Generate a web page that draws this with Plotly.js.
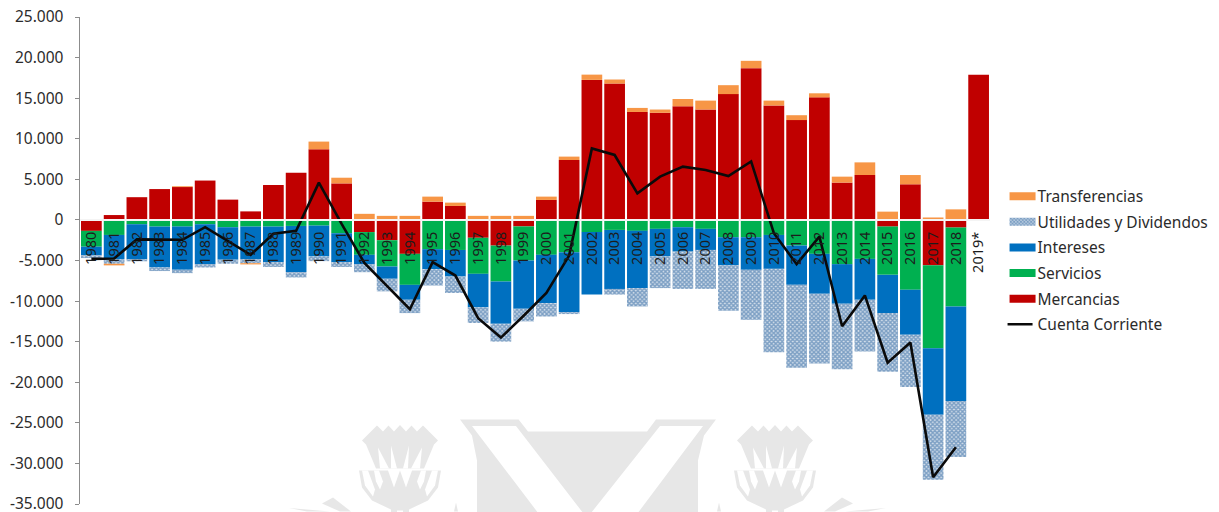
<!DOCTYPE html>
<html>
<head>
<meta charset="utf-8">
<script src="https://cdn.plot.ly/plotly-3.0.1.min.js"></script>
<style>html,body{margin:0;padding:0;background:#fff}#chart{width:1219px;height:512px}</style>
</head>
<body>
<div id="chart"></div>
<script>
// Balance components by year (thousand-dot formatted on the axis)
const years = ['1980','1981','1982','1983','1984','1985','1986','1987','1988','1989','1990','1991','1992','1993','1994','1995','1996','1997','1998','1999','2000','2001','2002','2003','2004','2005','2006','2007','2008','2009','2010','2011','2012','2013','2014','2015','2016','2017','2018','2019*'];

// Mercancías
const mercancias = [-1350,600,2800,3800,4050,4850,2500,1050,4300,5800,8700,4500,-1500,-2500,-4180,2250,1720,-2200,-3160,-800,2460,7380,17250,16800,13300,13200,14000,13600,15500,18700,14100,12300,15100,4600,5530,-820,4390,-5600,-940,17900];
// Servicios (segment size)
const servicios = [-1950,-1850,-530,-820,-820,-530,-900,-820,-820,-740,-700,-1640,-2800,-3240,-3820,-3600,-3700,-4440,-4430,-4200,-4300,-3980,-1500,-1230,-1350,-1100,-900,-1100,-2130,-2130,-1850,-3150,-4180,-5450,-4800,-5950,-8600,-10200,-9720,0];
// Intereses (segment size)
const intereses = [-1050,-3000,-4320,-5040,-5330,-4920,-4000,-4030,-4380,-5690,-3800,-3560,-1150,-1510,-1840,-2470,-3270,-4140,-5210,-5950,-5950,-7380,-7700,-7270,-7050,-3400,-3000,-2600,-3470,-4020,-4180,-4850,-4920,-4880,-5040,-4710,-5550,-8200,-11640,0];
// Utilidades y Dividendos (segment size)
const utilidades = [-350,-550,-250,-440,-410,-410,-500,-480,-600,-660,-580,-600,-990,-1550,-1640,-2010,-2030,-1920,-2200,-1550,-1650,-240,0,-700,-2260,-3900,-4600,-4800,-5600,-6150,-10270,-10200,-8600,-8070,-6360,-7220,-6450,-8000,-6900,0];
// Transferencias (negative only in 1981 and 1987)
const transferencias = [0,-200,0,0,100,0,0,-150,0,0,950,700,750,500,500,620,410,500,500,500,410,420,650,500,500,400,900,1100,1100,900,600,600,500,730,1560,1020,1140,300,1300,0];
// Cuenta Corriente
const cuentaCorriente = [-4800,-4750,-2400,-2450,-2450,-900,-2650,-4300,-1700,-1350,4600,-500,-5300,-8200,-11000,-5200,-6850,-12100,-14500,-11800,-9000,-4400,8800,8000,3280,5330,6560,6150,5400,7200,-1640,-5450,-2050,-13100,-9300,-17600,-15100,-31700,-28000,null];

const yTickValues = [25000,20000,15000,10000,5000,0,-5000,-10000,-15000,-20000,-25000,-30000,-35000];
const yTickLabels = ['25.000','20.000','15.000','10.000','5.000','0','-5.000','-10.000','-15.000','-20.000','-25.000','-30.000','-35.000'];

const fontFamily = '"Noto Sans", "Open Sans", sans-serif';
const textColor = '#2b2b2b';

function barTrace(name, values, color, rank) {
  return {type: 'bar', name: name, x: years, y: values, legendrank: rank, legendgroup: name,
          marker: {color: color, line: {width: 0}}, hoverinfo: 'name+x+y'};
}

const utilidadesTrace = barTrace('Utilidades y Dividendos', utilidades, '#ffffff', 2);
utilidadesTrace.marker.pattern = {shape: 'x', fgcolor: '#7c9fc4', bgcolor: '#d6e1ec', size: 3, solidity: 0.7, fillmode: 'replace'};

const traces = [
  barTrace('Mercancias', mercancias, '#c00000', 5),
  barTrace('Servicios', servicios, '#00b050', 4),
  barTrace('Intereses', intereses, '#0070c0', 3),
  utilidadesTrace,
  barTrace('Transferencias', transferencias, '#f79646', 1),
  {type: 'scatter', mode: 'lines', name: 'Cuenta Corriente', legendrank: 6, legendgroup: 'cuenta',
   x: years, y: cuentaCorriente, line: {color: '#0a0a0a', width: 2.6}, connectgaps: false}
];

// Plot-area box, in page pixels; the crest behind the bars is laid out in these units
const W = 1219, H = 512;
const box = {l: 80, r: 990, t: 17, b: 504.5};
const px = x => (x - box.l) / (box.r - box.l);
const py = y => (box.b - y) / (box.b - box.t);
function poly(points, fill) {
  const path = 'M' + points.map(p => px(p[0]).toFixed(5) + ',' + py(p[1]).toFixed(5)).join(' L') + ' Z';
  return {type: 'path', xref: 'paper', yref: 'paper', layer: 'below', path: path,
          fillcolor: fill, line: {width: 0}};
}
const GREY = '#e7e7e7', WHITE = '#ffffff';

// One thistle, mirrored about its centre line
function thistle(cx) {
  const at = pts => pts.map(p => [cx + p[0], p[1]]);
  const both = pts => [at(pts), at(pts.map(p => [-p[0], p[1]]))];
  const out = [];
  // flower head with serrated top
  out.push(poly(at([[-38,441],[-23,426],[-17,432],[-11.5,426],[-6,432],[0,425.5],[6,432],[11.5,426],[17,432],[23,426],[38,441],[34,445],[24,469],[-24,469],[-34,445]]), GREY));
  // white slits between the petals
  [[-22,448,-20,469,-11,469],[-9,446,-9,469,-3,469],[3,469,8,469,9,446],[11,469,20,469,22,448]].forEach(s => {
    out.push(poly(at([[s[0],s[1]],[s[2],s[3]],[s[4],s[5]]]), WHITE));
  });
  // bowl of the flower
  out.push(poly(at([[-41,471],[-38,488],[-28,501],[-9,510],[-9,520],[9,520],[9,510],[28,501],[38,488],[41,471],[34,471],[24,471],[12,471],[6,488],[0,471],[-6,488],[-12,471],[-24,471],[-34,471]]), GREY));
  // white curls along the rim of the bowl, and the stem slit
  both([[-38,471],[-35,486],[-27,497],[-25,490],[-32,471]]).forEach(p => out.push(poly(p, WHITE)));
  both([[-26,471],[-24,482],[-20,490],[-17,482],[-21,471]]).forEach(p => out.push(poly(p, WHITE)));
  out.push(poly(at([[-3,511],[3,511],[3,520],[-3,520]]), WHITE));
  return out;
}

const leafPairs = [
  [[842,498],[824,512],[835,512],[853,504]],
  [[886,508.5],[845,512],[868,512]],
  [[719,503],[717,512],[721,512]]
];
const crest = [
  // shield outline
  poly([[460,420],[518.6,420],[528,432],[647,432],[656,420],[716,420],[704,436],[698,461],[698,520],[477,520],[477,461],[472,436]], GREY),
  // open V cut out of the shield
  poly([[472,426.4],[516,426.4],[587,518.6],[660,426.4],[703,426.4],[634,518.6],[542,518.6]], WHITE)
].concat(thistle(400), thistle(775));
leafPairs.forEach(l => {
  crest.push(poly(l, GREY));
  crest.push(poly(l.map(p => [1175 - p[0], p[1]]), GREY));
});

const layout = {
  width: W, height: H,
  margin: {l: box.l, r: W - box.r, t: box.t, b: H - box.b, pad: 0, autoexpand: false},
  paper_bgcolor: '#ffffff', plot_bgcolor: 'rgba(0,0,0,0)',
  barmode: 'relative', bargap: 0.09,
  font: {family: fontFamily, size: 14, color: textColor},
  shapes: crest,
  xaxis: {
    type: 'category', categoryorder: 'array', categoryarray: years,
    anchor: 'free', position: 35000 / 60000,
    showline: true, linecolor: '#f4f4f4', linewidth: 2, layer: 'above traces',
    showgrid: false, zeroline: false, ticks: '', tickangle: -90,
    ticklabelstandoff: 5, tickfont: {family: fontFamily, size: 14.5, color: '#1c1c1c'},
    automargin: false, fixedrange: true
  },
  yaxis: {
    range: [-35000, 25000], tickmode: 'array', tickvals: yTickValues, ticktext: yTickLabels,
    showline: true, linecolor: '#8c8c8c', linewidth: 1.5, showgrid: false, zeroline: false,
    ticks: 'outside', ticklen: 4, tickcolor: '#8c8c8c', tickwidth: 1, ticklabelstandoff: 8,
    ticklabeloverflow: 'allow',
    tickfont: {family: fontFamily, size: 15.5, color: textColor},
    automargin: false, fixedrange: true
  },
  showlegend: true,
  legend: {
    x: 1.0083, y: 0.666, xanchor: 'left', yanchor: 'top', xref: 'paper', yref: 'paper',
    traceorder: 'grouped', tracegroupgap: 2.45, itemwidth: 30, itemclick: false,
    font: {family: fontFamily, size: 15.5, color: textColor}, bgcolor: 'rgba(0,0,0,0)'
  }
};

Plotly.newPlot('chart', traces, layout, {displayModeBar: false, staticPlot: true}).then(gd => {
  // Flat swatches and a shorter line key in the legend
  gd.querySelectorAll('.legend .legendbar path, .legend .legendpoints path').forEach(p => {
    p.setAttribute('d', 'M-8,4H18V-4H-8Z');
  });
  gd.querySelectorAll('.legend .js-line').forEach(p => {
    p.setAttribute('d', 'M10,0h25');
  });
});
</script>
</body>
</html>
